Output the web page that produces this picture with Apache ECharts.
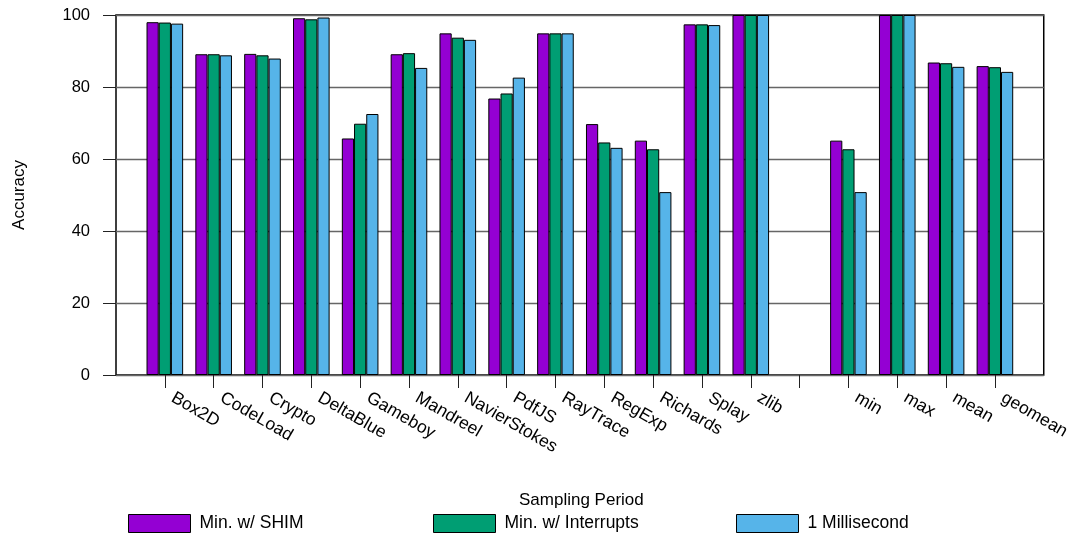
<!DOCTYPE html>
<html>
<head>
<meta charset="utf-8">
<title>Accuracy by benchmark</title>
<script src="https://cdn.jsdelivr.net/npm/echarts@6/dist/echarts.min.js"></script>
<style>
  html, body { margin: 0; padding: 0; background: #fff; }
  #chart { width: 1073px; height: 537px; }
</style>
</head>
<body>
<div id="chart"></div>
<script>
// Benchmarks (empty slot separates the individual runs from the summary stats)
const categories = ['Box2D', 'CodeLoad', 'Crypto', 'DeltaBlue', 'Gameboy', 'Mandreel',
  'NavierStokes', 'PdfJS', 'RayTrace', 'RegExp', 'Richards', 'Splay', 'zlib', '',
  'min', 'max', 'mean', 'geomean'];

const seriesNames = ['Min. w/ SHIM', 'Min. w/ Interrupts', '1 Millisecond'];

const minShim = [98.0, 89.1, 89.2, 99.1, 65.7, 89.1, 94.9, 76.8, 94.9, 69.7, 65.1, 97.4, 100, null,
  65.1, 100, 86.8, 85.8];
const minInterrupts = [97.9, 89.1, 88.8, 98.8, 69.8, 89.4, 93.7, 78.2, 94.9, 64.6, 62.7, 97.4, 100, null,
  62.7, 100, 86.6, 85.5];
const oneMillisecond = [97.6, 88.8, 87.9, 99.3, 72.5, 85.3, 93.1, 82.6, 94.9, 63.1, 50.8, 97.2, 100, null,
  50.8, 100, 85.6, 84.2];

const yTicks = [0, 20, 40, 60, 80, 100];

const colors = ['#9400D3', '#009E73', '#56B4E9'];
const FONT = '"Liberation Sans", Arial, Helvetica, sans-serif';

// One empty slot on each side keeps half a bar group of room at the frame edges
const axisData = [' ', ...categories, '  '];
const pad = arr => [null, ...arr, null];
const seriesValues = [minShim, minInterrupts, oneMillisecond];

const chart = echarts.init(document.getElementById('chart'), null, { renderer: 'canvas' });

const legendLefts = [128, 433, 736];

chart.setOption({
  animation: false,
  backgroundColor: '#fff',
  textStyle: { fontFamily: FONT },
  grid: {
    left: 116, right: 28, top: 15, bottom: 162,
    show: true, borderColor: '#000', borderWidth: 1.5, backgroundColor: 'transparent'
  },
  xAxis: {
    type: 'category',
    data: axisData,
    boundaryGap: false,
    axisLine: { show: false },
    axisTick: {
      show: true, length: 13, inside: false,
      interval: idx => idx > 0 && idx < axisData.length - 1,
      lineStyle: { color: '#222', width: 1 }
    },
    axisLabel: {
      interval: 0, rotate: -30, margin: 17,
      padding: [0, 0, 0, 9],
      fontSize: 17.5, color: '#000', fontFamily: FONT
    },
    splitLine: { show: false }
  },
  yAxis: {
    type: 'value',
    min: yTicks[0], max: yTicks[yTicks.length - 1], interval: 20,
    name: 'Accuracy',
    nameLocation: 'middle',
    nameGap: 88,
    nameTextStyle: { fontSize: 17, color: '#000', fontFamily: FONT },
    axisLine: { show: false },
    axisTick: { show: true, length: 13, lineStyle: { color: '#222', width: 1 } },
    axisLabel: { margin: 26, fontSize: 16.5, color: '#000', fontFamily: FONT },
    splitLine: { show: true, lineStyle: { color: '#666', width: 1.4 } }
  },
  legend: seriesNames.map((name, i) => ({
    data: [name],
    left: legendLefts[i],
    top: 514,
    padding: 0,
    itemWidth: 62,
    itemHeight: 18,
    itemGap: 12,
    icon: 'rect',
    selectedMode: false,
    itemStyle: { borderColor: '#000', borderWidth: 1 },
    textStyle: { fontSize: 17.5, color: '#000', fontFamily: FONT, padding: [0, 0, 0, 4] }
  })),
  graphic: [{
    type: 'text',
    left: 519,
    top: 492,
    style: { text: 'Sampling Period', font: '17px ' + FONT, fill: '#000' }
  }],
  series: seriesNames.map((name, i) => ({
    name: name,
    type: 'bar',
    data: pad(seriesValues[i]),
    barWidth: 12.2,
    barGap: '0%',
    itemStyle: { color: colors[i], borderColor: '#000', borderWidth: 1 },
    emphasis: { disabled: true }
  }))
});
</script>
</body>
</html>
